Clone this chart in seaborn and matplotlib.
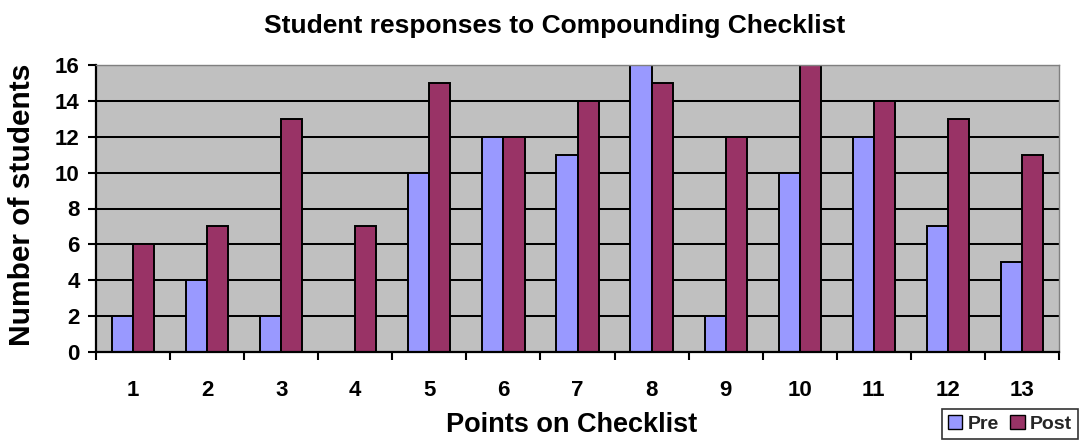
import matplotlib
matplotlib.use("Agg")
import matplotlib.pyplot as plt
import seaborn as sns
import pandas as pd
import numpy as np
from matplotlib.ticker import FixedLocator, NullFormatter

points = [str(i) for i in range(1, 14)]
pre = [2, 4, 2, 0, 10, 12, 11, 16, 2, 10, 12, 7, 5]
post = [6, 7, 13, 7, 15, 12, 14, 15, 12, 16, 14, 13, 11]
groups = ["Pre", "Post"]
colors = ["#9999FF", "#993366"]

df = pd.DataFrame({
    "point": points * 2,
    "students": pre + post,
    "group": ["Pre"] * len(points) + ["Post"] * len(points),
})

sns.set_theme(style="ticks")
plt.rcParams["font.family"] = ["Liberation Sans", "DejaVu Sans"]
plt.rcParams["font.weight"] = "bold"
plt.rcParams["xtick.bottom"] = True
plt.rcParams["ytick.left"] = True

W, H = 1082, 445
fig = plt.figure(figsize=(W / 100, H / 100), dpi=100)
left, right, top, bottom = 96, 1059, 65, 352
ax = fig.add_axes([left / W, 1 - bottom / H, (right - left) / W, (bottom - top) / H])
ax.set_facecolor("#C0C0C0")

sns.barplot(data=df, x="point", y="students", hue="group", hue_order=groups,
            palette=colors, order=points, width=0.571, gap=0,
            edgecolor="black", linewidth=1.4, saturation=1, ax=ax)

ax.set_ylim(0, 16)
ax.set_xlim(-0.5, len(points) - 0.5)
ax.set_yticks(range(0, 17, 2))
ax.yaxis.grid(True, color="black", linewidth=1.45)
ax.set_axisbelow(True)

# category labels centered, tick marks between categories
ax.xaxis.set_minor_locator(FixedLocator(np.arange(-0.5, len(points), 1)))
ax.xaxis.set_minor_formatter(NullFormatter())
ax.tick_params(axis="x", which="major", length=0, pad=20, labelsize=16,
               labelcolor="black")
ax.tick_params(axis="x", which="minor", length=5.5, width=1.5, color="black",
               direction="out", bottom=True)
ax.tick_params(axis="y", which="major", length=5.8, width=1.5, color="black",
               direction="out", left=True, labelsize=16, pad=6, labelcolor="black")

for side in ["left", "bottom"]:
    ax.spines[side].set_color("black")
    ax.spines[side].set_linewidth(1.6)
for side in ["top", "right"]:
    ax.spines[side].set_visible(True)
    ax.spines[side].set_color("#808080")
    ax.spines[side].set_linewidth(1.0)

ax.set_xlabel("Points on Checklist", fontsize=19.5, fontweight="bold", color="black")
ax.xaxis.label.set_va("baseline")
ax.xaxis.set_label_coords((572 - left) / (right - left), (bottom - 432) / (bottom - top))
ax.set_ylabel("Number of students", fontsize=21.5, fontweight="bold", color="black")
ax.yaxis.label.set_va("center")
ax.yaxis.set_label_coords((22 - left) / (right - left), (bottom - 205) / (bottom - top))

fig.text(0.513, 1 - 33 / H, "Student responses to Compounding Checklist",
         ha="center", va="baseline", fontsize=19, fontweight="bold", color="black")

handles, labels = ax.get_legend_handles_labels()
ax.legend_.remove()
leg = fig.legend(handles, labels, loc="upper left",
                 bbox_to_anchor=(942 / W, 1 - 409 / H), ncol=2, frameon=True,
                 fancybox=False, edgecolor="black",
                 prop={"weight": "bold", "size": 14},
                 handlelength=0.75, handleheight=0.75, handletextpad=0.25,
                 columnspacing=0.6, borderpad=0.3, borderaxespad=0)
leg.get_frame().set_linewidth(1.2)
for h in leg.legend_handles:
    h.set_edgecolor("black")
    h.set_linewidth(1.0)

fig.savefig("out.png", dpi=100)
